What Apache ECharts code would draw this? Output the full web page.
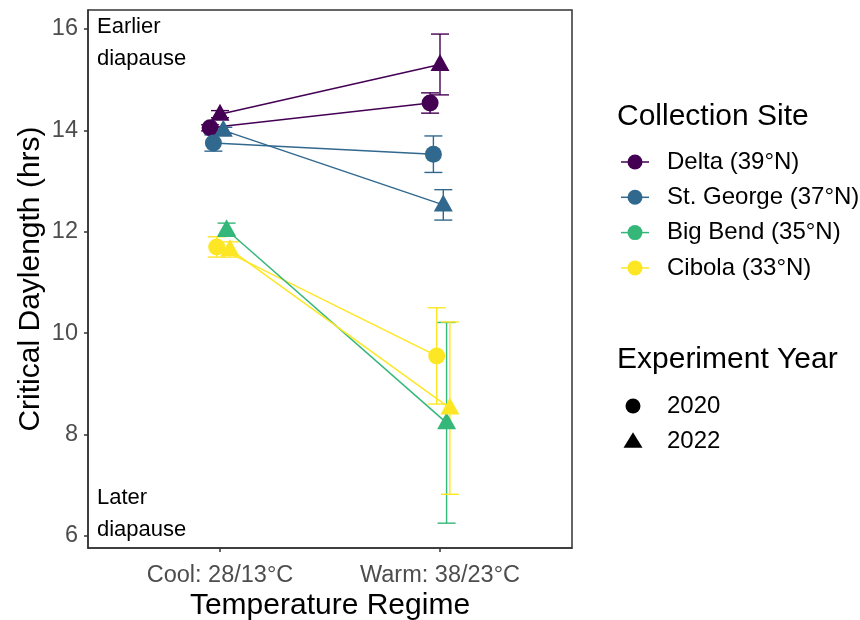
<!DOCTYPE html>
<html>
<head>
<meta charset="utf-8">
<script src="https://cdn.jsdelivr.net/npm/echarts@6/dist/echarts.min.js"></script>
<style>
  html, body { margin: 0; padding: 0; background: #fff; }
  #chart { width: 860px; height: 620px; }
</style>
</head>
<body>
<div id="chart"></div>
<script>
// Temperature regimes on the x axis
const regimes = ['Cool: 28/13°C', 'Warm: 38/23°C'];
const yTicks = [6, 8, 10, 12, 14, 16];

// Collection sites and their viridis colours
const sites = ['Delta (39°N)', 'St. George (37°N)', 'Big Bend (35°N)', 'Cibola (33°N)'];
const siteColors = ['#440154', '#31688E', '#35B779', '#FDE725'];
const years = ['2020', '2022'];

// Mean critical daylength (hrs) and standard error, [cool, warm]
const delta2020Mean = [14.05, 14.54];
const delta2020Se   = [0.06, 0.20];
const delta2022Mean = [14.32, 15.30];
const delta2022Se   = [0.07, 0.60];
const stGeorge2020Mean = [13.75, 13.53];
const stGeorge2020Se   = [0.16, 0.36];
const stGeorge2022Mean = [14.00, 12.53];
const stGeorge2022Se   = [0.06, 0.30];
const bigBend2022Mean = [12.04, 8.23];
const bigBend2022Se   = [0.13, 1.98];
const cibola2020Mean = [11.70, 9.55];
const cibola2020Se   = [0.20, 0.95];
const cibola2022Mean = [11.65, 8.52];
const cibola2022Se   = [0.15, 1.70];

// Groups in dodge order (year, then site)
const groups = [
  { site: 0, year: 0, mean: delta2020Mean,    se: delta2020Se },
  { site: 1, year: 0, mean: stGeorge2020Mean, se: stGeorge2020Se },
  { site: 3, year: 0, mean: cibola2020Mean,   se: cibola2020Se },
  { site: 0, year: 1, mean: delta2022Mean,    se: delta2022Se },
  { site: 1, year: 1, mean: stGeorge2022Mean, se: stGeorge2022Se },
  { site: 2, year: 1, mean: bigBend2022Mean,  se: bigBend2022Se },
  { site: 3, year: 1, mean: cibola2022Mean,   se: cibola2022Se }
];

const dodgeWidth = 0.105;
const yearSymbols = ['circle', 'triangle'];
const fontFamily = '"Liberation Sans", Arial, sans-serif';

function dodgeX(regimeIndex, groupIndex) {
  const n = groups.length;
  return regimeIndex + 1 + (groupIndex - (n - 1) / 2) * dodgeWidth / n;
}

const series = [];

// Error bars
groups.forEach((g, gi) => {
  const color = siteColors[g.site];
  series.push({
    type: 'custom',
    z: 2,
    silent: true,
    data: g.mean.map((m, ri) => [dodgeX(ri, gi), m - g.se[ri], m + g.se[ri]]),
    renderItem: function (params, api) {
      const x = api.value(0);
      const lo = api.coord([x, api.value(1)]);
      const hi = api.coord([x, api.value(2)]);
      const half = 9;
      const style = { stroke: color, lineWidth: 1.4 };
      return {
        type: 'group',
        children: [
          { type: 'line', shape: { x1: lo[0], y1: lo[1], x2: hi[0], y2: hi[1] }, style: style },
          { type: 'line', shape: { x1: lo[0] - half, y1: lo[1], x2: lo[0] + half, y2: lo[1] }, style: style },
          { type: 'line', shape: { x1: hi[0] - half, y1: hi[1], x2: hi[0] + half, y2: hi[1] }, style: style }
        ]
      };
    }
  });
});

// Connecting lines with points
groups.forEach((g, gi) => {
  const color = siteColors[g.site];
  const tri = g.year === 1;
  series.push({
    type: 'line',
    name: sites[g.site] + ' ' + years[g.year],
    z: 3,
    silent: true,
    animation: false,
    data: g.mean.map((m, ri) => [dodgeX(ri, gi), m]),
    symbol: yearSymbols[g.year],
    symbolSize: tri ? [19, 17] : 17,
    symbolOffset: tri ? [0, -2] : [0, 0],
    showAllSymbol: true,
    lineStyle: { color: color, width: 1.5 },
    itemStyle: { color: color, opacity: 1 }
  });
});

// Legend drawn as graphics
const graphic = [];
const legX = 617;
const titleFont = '30px ' + fontFamily;
const itemFont = '24px ' + fontFamily;
graphic.push({
  type: 'text', x: legX, y: 117,
  style: { text: 'Collection Site', font: titleFont, fill: '#000', verticalAlign: 'middle' }
});
sites.forEach((s, i) => {
  const cy = 162 + i * 35.3;
  graphic.push({ type: 'line', shape: { x1: 621, y1: cy, x2: 649, y2: cy }, style: { stroke: siteColors[i], lineWidth: 1.5 } });
  graphic.push({ type: 'circle', shape: { cx: 635, cy: cy, r: 7.5 }, style: { fill: siteColors[i] } });
  graphic.push({
    type: 'text', x: 667, y: cy,
    style: { text: s, font: itemFont, fill: '#000', verticalAlign: 'middle' }
  });
});
graphic.push({
  type: 'text', x: legX, y: 360,
  style: { text: 'Experiment Year', font: titleFont, fill: '#000', verticalAlign: 'middle' }
});
years.forEach((y, i) => {
  const cy = 406 + i * 35.3;
  if (i === 0) {
    graphic.push({ type: 'circle', shape: { cx: 633, cy: cy, r: 7.5 }, style: { fill: '#000' } });
  } else {
    graphic.push({ type: 'polygon', shape: { points: [[633, cy - 9], [642.5, cy + 6.5], [623.5, cy + 6.5]] }, style: { fill: '#000' } });
  }
  graphic.push({
    type: 'text', x: 667, y: cy,
    style: { text: y, font: itemFont, fill: '#000', verticalAlign: 'middle' }
  });
});

// Panel annotations
const noteFont = '22px ' + fontFamily;
graphic.push({
  type: 'text', x: 97, y: 11,
  style: { text: 'Earlier\ndiapause', font: noteFont, fill: '#000', lineHeight: 32 }
});
graphic.push({
  type: 'text', x: 97, y: 482,
  style: { text: 'Later\ndiapause', font: noteFont, fill: '#000', lineHeight: 32 }
});

const chart = echarts.init(document.getElementById('chart'), null, { renderer: 'canvas' });
chart.setOption({
  animation: false,
  backgroundColor: '#fff',
  textStyle: { fontFamily: fontFamily },
  grid: {
    left: 88, right: 288, top: 10, bottom: 72,
    outerBoundsMode: 'none',
    containLabel: false,
    show: true, borderColor: '#333', borderWidth: 1.5, backgroundColor: 'transparent'
  },
  xAxis: {
    type: 'value',
    min: 0.4, max: 2.6,
    name: 'Temperature Regime',
    nameLocation: 'middle',
    nameGap: 43,
    nameMoveOverlap: false,
    nameTextStyle: { fontSize: 30, color: '#000', fontFamily: fontFamily },
    axisLine: { show: true, lineStyle: { color: '#333', width: 1.5 } },
    axisTick: { show: true, customValues: [1, 2], length: 4, lineStyle: { color: '#333', width: 1.5 } },
    axisLabel: {
      customValues: [1, 2],
      formatter: v => regimes[Math.round(v) - 1],
      fontSize: 23.5, color: '#4d4d4d', margin: 16, fontFamily: fontFamily
    },
    splitLine: { show: false }
  },
  yAxis: {
    type: 'value',
    min: 5.76, max: 16.375,
    name: 'Critical Daylength (hrs)',
    nameLocation: 'middle',
    nameGap: 42,
    nameMoveOverlap: false,
    nameTextStyle: { fontSize: 30, color: '#000', fontFamily: fontFamily },
    axisLine: { show: true, lineStyle: { color: '#333', width: 1.5 } },
    axisTick: { show: true, customValues: yTicks, length: 4, lineStyle: { color: '#333', width: 1.5 } },
    axisLabel: {
      customValues: yTicks,
      fontSize: 23.5, color: '#4d4d4d', margin: 10, fontFamily: fontFamily
    },
    splitLine: { show: false }
  },
  graphic: graphic,
  series: series
});
</script>
</body>
</html>
